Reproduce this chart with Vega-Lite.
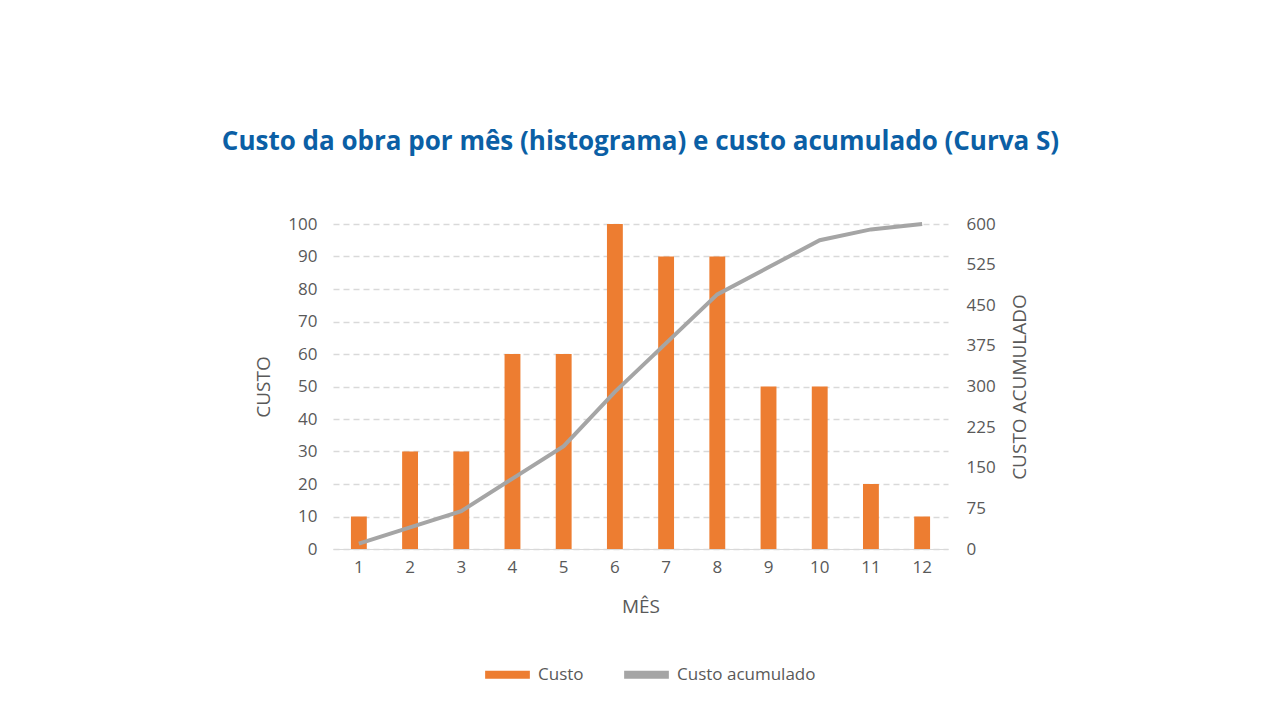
{
"$schema":"https://vega.github.io/schema/vega-lite/v6.json",
"width":615,"height":325,
"autosize":{"type":"none"},
"padding":{"left":333,"top":224,"right":332,"bottom":171},
"background":"white",
"config":{"view":{"stroke":null},"font":"Open Sans"},
"title":{"text":"Custo da obra por mês (histograma) e custo acumulado (Curva S)","fontSize":26,"font":"Open Sans","fontWeight":"bold","color":"#0B5FA5","offset":60,"anchor":"middle"},
"data":{"values":[
{"mes":1,"custo":10,"acum":10},{"mes":2,"custo":30,"acum":40},{"mes":3,"custo":30,"acum":70},
{"mes":4,"custo":60,"acum":130},{"mes":5,"custo":60,"acum":190},{"mes":6,"custo":100,"acum":290},
{"mes":7,"custo":90,"acum":380},{"mes":8,"custo":90,"acum":470},{"mes":9,"custo":50,"acum":520},
{"mes":10,"custo":50,"acum":570},{"mes":11,"custo":20,"acum":590},{"mes":12,"custo":10,"acum":600}]},
"encoding":{"x":{"field":"mes","type":"ordinal","title":"MÊS","scale":{"paddingInner":0.69,"paddingOuter":0.35},
 "axis":{"labelAngle":0,"labelFontSize":17,"labelColor":"#595959","titleFontSize":19,"titleFontWeight":"normal","titleColor":"#595959","domainColor":"#d9d9d9","ticks":false,"labelPadding":10,"titlePadding":22}}},
"layer":[
{"mark":{"type":"bar","color":"#ED7D31"},
 "encoding":{"y":{"field":"custo","type":"quantitative","title":"CUSTO","scale":{"domain":[0,100]},
  "axis":{"values":[0,10,20,30,40,50,60,70,80,90,100],"labelFontSize":17,"labelColor":"#595959","titleFontSize":19,"titleFontWeight":"normal","titleColor":"#595959","domain":false,"ticks":false,"gridDash":[6,4],"gridColor":"#d9d9d9","gridWidth":1.5,"labelPadding":16,"titlePadding":14}},
  "color":{"datum":"Custo","type":"nominal","scale":{"domain":["Custo","Custo acumulado"],"range":["#ED7D31","#A5A5A5"]},
   "legend":{"title":null,"orient":"none","legendX":148,"legendY":424,"direction":"horizontal","labelFontSize":17,"labelColor":"#595959","symbolType":"stroke","symbolStrokeWidth":8,"symbolSize":2000,"columnPadding":24}}}},
{"mark":{"type":"line","color":"#A5A5A5","strokeWidth":4},
 "encoding":{"y":{"field":"acum","type":"quantitative","title":"CUSTO ACUMULADO","scale":{"domain":[0,600]},
  "axis":{"orient":"right","values":[0,75,150,225,300,375,450,525,600],"grid":false,"labelFontSize":17,"labelColor":"#595959","titleFontSize":19,"titleFontWeight":"normal","titleColor":"#595959","titleAngle":270,"domain":false,"ticks":false,"labelPadding":18,"titlePadding":34}},
  "color":{"datum":"Custo acumulado","type":"nominal"}}}
],
"resolve":{"scale":{"y":"independent"}}
}
